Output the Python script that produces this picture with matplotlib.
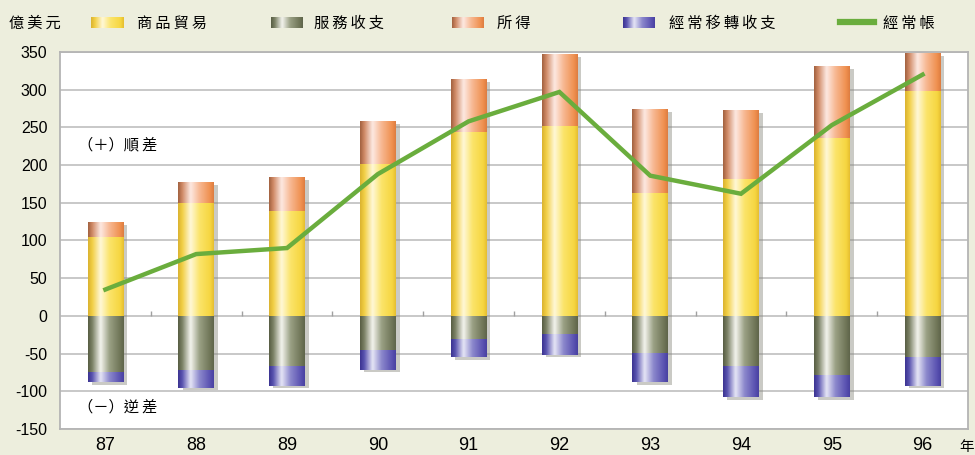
import numpy as np
import matplotlib
matplotlib.use('Agg')
import matplotlib.pyplot as plt
from matplotlib.colors import LinearSegmentedColormap

years = ['87', '88', '89', '90', '91', '92', '93', '94', '95', '96']
trade = [105, 150, 139, 202, 244, 252, 163, 182, 236, 298]
income = [20, 27, 45, 56, 70, 95, 112, 91, 96, 51]
services = [-75, -72, -66, -45, -31, -24, -49, -66, -78, -54]
transfers = [-13, -23, -27, -27, -24, -28, -39, -42, -30, -39]
current = [35, 82, 90, 188, 258, 297, 186, 162, 253, 320]

yticks = [-150, -100, -50, 0, 50, 100, 150, 200, 250, 300, 350]

CJK = ['Noto Sans CJK TC', 'DejaVu Sans']
BG = '#edeedd'

YELLOW = [(0, '#d9b230'), (0.12, '#f2cf45'), (0.35, '#fff8d8'), (0.6, '#fbe46a'), (0.9, '#f6d640'), (1, '#e4bc30')]
ORANGE = [(0, '#a0603e'), (0.12, '#d08a66'), (0.35, '#fde9e2'), (0.6, '#f7b892'), (0.9, '#ef8f4e'), (1, '#dc7c40')]
GRAY = [(0, '#565c42'), (0.12, '#7c8266'), (0.35, '#f4f4ee'), (0.6, '#9aa084'), (0.9, '#6e7456'), (1, '#5e644a')]
BLUE = [(0, '#3a3290'), (0.12, '#5a54b0'), (0.35, '#e6e6f6'), (0.6, '#8c88cc'), (0.9, '#5850b0'), (1, '#4840a0')]
GREEN = '#6aad3d'

grad = np.linspace(0, 1, 256).reshape(1, -1)


def spaced(s):
    # widen the CJK labels a little, like the original
    return '\u2009'.join(s)


def grad_bar(ax, x, bottom, height, width, stops, z):
    rect = ax.bar(x, height, width, bottom=bottom, color='none',
                  edgecolor='none', zorder=z)[0]
    cmap = LinearSegmentedColormap.from_list('g', stops)
    im = ax.imshow(grad, cmap=cmap, aspect='auto', interpolation='bicubic',
                   extent=(x - width / 2, x + width / 2, bottom, bottom + height),
                   zorder=z)
    im.set_clip_path(rect)


def legend_patch(fig, x0, stops):
    lax = fig.add_axes([x0 / 975, 1 - 28 / 455, 32 / 975, 11 / 455])
    lax.imshow(grad, cmap=LinearSegmentedColormap.from_list('g', stops),
               aspect='auto', interpolation='bicubic')
    lax.axis('off')


fig = plt.figure(figsize=(9.75, 4.55), dpi=100, facecolor=BG)
ax = fig.add_axes([60 / 975, 26 / 455, 908 / 975, 377 / 455])
ax.set_facecolor('white')

x = np.arange(len(years))
w = 0.39
dx = 0.045

# shadows
pos_top = np.array(trade) + np.array(income)
neg_bot = np.array(services) + np.array(transfers)
ax.bar(x + dx, pos_top - 4, w, bottom=0, color='#8a8a80', alpha=0.45, zorder=2)
ax.bar(x + dx, neg_bot - 3, w, bottom=0, color='#8a8a80', alpha=0.45, zorder=2)

for i in range(len(years)):
    grad_bar(ax, x[i], 0, trade[i], w, YELLOW, 3)
    grad_bar(ax, x[i], trade[i], income[i], w, ORANGE, 3)
    grad_bar(ax, x[i], 0, services[i], w, GRAY, 3)
    grad_bar(ax, x[i], services[i], transfers[i], w, BLUE, 3)

ax.plot(x, current, color=GREEN, lw=3.2, zorder=5, solid_joinstyle='miter')

# small ticks on the zero line between categories
ax.vlines(x[:-1] + 0.5, 0, 6, color='#a0a0a0', lw=1, zorder=1.5)

ax.set_xlim(-0.5, len(years) - 0.5)
ax.set_ylim(-150, 350)
ax.set_yticks(yticks)
ax.set_yticklabels([str(v) for v in yticks], fontsize=11.5, family='Liberation Sans')
ax.set_xticks(x)
ax.set_xticklabels(years, fontsize=13, family='Liberation Sans')
ax.tick_params(length=0)
ax.tick_params(axis='y', pad=9)
ax.tick_params(axis='x', pad=6)
ax.grid(axis='y', color='#c4c4c4', lw=1.3, zorder=0)
ax.set_axisbelow(True)
for s in ax.spines.values():
    s.set_color('#b4b4b4')
    s.set_linewidth(1.3)

ax.text(0.02, 227, '（＋）' + spaced('順差'), fontsize=11, family=CJK, va='center',
        transform=ax.get_yaxis_transform())
ax.text(0.02, -121, '（－）' + spaced('逆差'), fontsize=11, family=CJK, va='center',
        transform=ax.get_yaxis_transform())
fig.text(974 / 975, 1 - 447 / 455, '年', fontsize=10.5, family=CJK, va='center', ha='right')

# legend across the top
fig.text(9 / 975, 1 - 23 / 455, spaced('億美元'), fontsize=11, family=CJK, va='center')
items = [(91, '商品貿易', YELLOW, 137), (271, '服務收支', GRAY, 314),
         (452, '所得', ORANGE, 497), (623, '經常移轉收支', BLUE, 669)]
for px, label, stops, tx in items:
    legend_patch(fig, px, stops)
    fig.text(tx / 975, 1 - 23 / 455, spaced(label), fontsize=11, family=CJK, va='center')
fig.lines.append(plt.Line2D([840 / 975, 874 / 975], [1 - 22 / 455, 1 - 22 / 455],
                            transform=fig.transFigure, color=GREEN, lw=4.5))
fig.text(883 / 975, 1 - 23 / 455, spaced('經常帳'), fontsize=11, family=CJK, va='center')

fig.savefig('out.png', dpi=100, facecolor=BG)
